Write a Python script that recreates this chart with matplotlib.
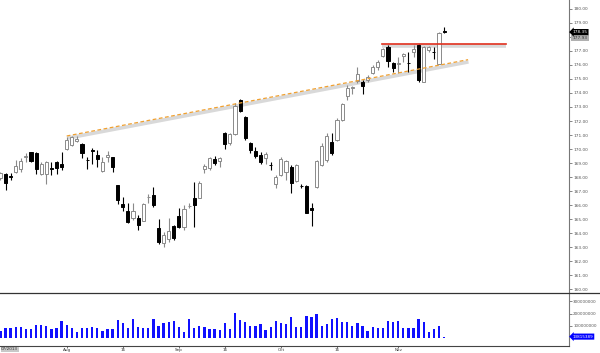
import numpy as np
import pandas as pd
import matplotlib
matplotlib.use("Agg")
import matplotlib.pyplot as plt
import matplotlib.transforms as mtransforms
from matplotlib.lines import Line2D

# trading days, Jul 15 - Nov 14 2013 (Labor day closed)
dates = pd.bdate_range("2013-07-15", "2013-11-14")
dates = dates[dates != pd.Timestamp("2013-09-02")]

opens = [167.90, 168.19, 168.10, 168.33, 168.55, 169.43, 169.76, 169.74, 168.19, 168.19, 168.67, 169.05, 168.90,
         169.98, 170.29, 170.57, 170.33, 169.23, 169.93, 169.57, 168.45, 169.40, 169.45, 167.40, 166.05,
         165.60, 165.05, 165.10, 164.88, 166.55, 166.71, 164.33, 163.26, 163.55, 164.50, 165.21, 164.40,
         165.90, 166.48, 166.48, 168.57, 168.62, 169.26, 169.17, 171.17, 170.40, 171.05, 173.50, 172.31,
         170.45, 169.86, 169.57, 169.33, 168.86, 167.48, 168.14, 168.38, 168.74, 167.74, 167.36, 167.38,
         165.76, 167.26, 168.86, 169.21, 170.52, 170.64, 172.07, 173.79, 174.38, 174.88, 174.81, 174.93,
         175.45, 175.83, 176.64, 177.31, 176.12, 176.05, 176.67, 176.17, 176.95, 177.43, 174.81, 177.07,
         176.93, 176.07, 178.45]
closes = [168.26, 167.55, 167.98, 168.81, 169.14, 169.50, 169.14, 168.55, 168.90, 169.05, 168.60, 168.62, 168.74,
          170.64, 170.88, 170.71, 169.74, 169.21, 169.86, 169.29, 169.10, 169.57, 168.74, 166.38, 165.83,
          164.76, 165.60, 164.57, 166.05, 166.60, 166.00, 163.33, 163.86, 164.14, 163.62, 164.40, 165.71,
          165.95, 166.00, 167.60, 168.79, 169.33, 168.98, 169.33, 170.33, 171.05, 173.07, 172.74, 170.76,
          169.93, 169.50, 169.05, 169.62, 168.83, 167.98, 169.26, 169.14, 167.60, 168.86, 167.33, 165.45,
          165.62, 169.17, 170.21, 170.93, 169.69, 172.07, 173.21, 174.33, 174.40, 175.36, 174.52, 175.12,
          175.88, 176.19, 177.12, 176.29, 175.76, 176.17, 176.79, 176.14, 177.12, 174.93, 177.31, 177.26,
          176.90, 178.31, 178.35]
highs = [168.38, 168.26, 168.26, 169.21, 169.33, 169.69, 169.81, 169.81, 169.05, 169.14, 169.05, 169.14, 169.81,
         170.88, 170.93, 170.93, 170.40, 169.45, 170.05, 169.93, 169.45, 169.86, 169.45, 167.43, 166.55,
         166.12, 166.12, 165.29, 166.12, 166.79, 167.26, 164.98, 164.10, 165.05, 164.57, 165.76, 166.00,
         166.12, 167.67, 167.74, 168.93, 169.45, 169.50, 169.45, 171.24, 171.17, 173.31, 173.55, 172.36,
         170.52, 170.17, 169.81, 169.81, 169.10, 168.14, 169.45, 169.21, 168.86, 168.93, 167.50, 167.43,
         166.12, 169.21, 170.40, 171.12, 171.12, 172.19, 173.31, 174.57, 174.50, 175.88, 174.90, 175.29,
         176.00, 176.36, 177.19, 177.43, 176.24, 176.60, 176.88, 176.95, 177.43, 177.50, 177.36, 177.36,
         177.31, 178.36, 178.74]
lows = [167.79, 167.07, 167.79, 168.26, 168.38, 169.10, 169.10, 168.19, 168.14, 167.48, 168.14, 168.19, 168.50,
        169.93, 170.24, 170.48, 169.33, 168.55, 168.90, 168.74, 168.38, 169.05, 168.33, 166.05, 165.60,
        164.70, 164.93, 164.21, 164.86, 166.12, 165.88, 163.21, 163.02, 163.38, 163.50, 164.33, 164.21,
        165.76, 164.45, 166.48, 168.31, 168.50, 168.86, 168.69, 169.98, 170.29, 171.00, 172.67, 170.64,
        169.69, 169.33, 168.93, 168.93, 168.50, 167.19, 168.07, 167.79, 166.83, 167.67, 167.24, 165.40,
        164.50, 167.19, 168.79, 169.10, 169.57, 170.60, 172.02, 173.50, 173.93, 174.69, 173.93, 174.81,
        175.33, 175.64, 176.55, 175.88, 175.52, 175.40, 176.24, 175.52, 176.60, 174.79, 174.76, 176.95,
        176.40, 176.05, 178.26]
volumes = [63, 82, 87, 95, 95, 74, 74, 106, 106, 103, 74, 82, 138,
           109, 82, 50, 82, 82, 95, 87, 63, 74, 74, 149, 128,
           82, 157, 95, 82, 82, 155, 103, 122, 136, 138, 90, 55,
           155, 82, 103, 90, 74, 74, 69, 122, 74, 203, 149, 130,
           101, 101, 114, 69, 95, 141, 122, 114, 176, 90, 95, 181,
           171, 200, 103, 114, 155, 163, 130, 136, 103, 125, 103, 63,
           90, 82, 82, 138, 130, 141, 82, 82, 82, 155, 136, 55,
           77, 101, 13.815389]
volumes = np.array(volumes) * 1e6

# drawn lines (bar index, price)
trend_x = [0, 78.7]
trend_y = [170.93, 176.38]
resist_x = [61.8, 86.1]
resist_y = 177.48
last_label = "178.35"
prev_label = "177.93"

n = len(dates)
idx = np.arange(n) - 13  # Aug 1 = 0
o = np.array(opens); c = np.array(closes); h = np.array(highs); l = np.array(lows)
up = c >= o

W, H = 600, 353
fig = plt.figure(figsize=(W / 100, H / 100), dpi=100)
ax_p = fig.add_axes([0, (H - 292.7) / H, 569 / W, 292.7 / H])
ax_v = fig.add_axes([0, (H - 345.7) / H, 569 / W, 53 / H], sharex=ax_p)

# candles
up_col = "#8a8a8a"
ax_p.vlines(idx[up], l[up], h[up], color=up_col, lw=0.8, zorder=2)
ax_p.vlines(idx[~up], l[~up], h[~up], color="black", lw=0.8, zorder=2)
body_lo = np.minimum(o, c)
body_h = np.maximum(np.abs(c - o), 0.03)
ax_p.bar(idx[up], body_h[up], bottom=body_lo[up], width=0.6, facecolor="white",
         edgecolor=up_col, linewidth=0.7, zorder=3)
ax_p.bar(idx[~up], body_h[~up], bottom=body_lo[~up], width=0.6, facecolor="black",
         edgecolor="black", linewidth=0.7, zorder=3)

# trend line with shadow
shadow = ax_p.transData + mtransforms.ScaledTranslation(0.3 / 72, -1.6 / 72, fig.dpi_scale_trans)
ax_p.plot(trend_x, trend_y, color="#d9d9d9", lw=2.6, transform=shadow, zorder=1, solid_capstyle="butt")
ax_p.plot(trend_x, trend_y, color="#f0a030", lw=0.9, ls=(0, (3, 2)), zorder=4)
ax_p.plot(resist_x, [resist_y] * 2, color="#d9d9d9", lw=2.6, transform=shadow, zorder=1, solid_capstyle="butt")
ax_p.plot(resist_x, [resist_y] * 2, color="#e0301e", lw=1.2, zorder=4)

ax_p.set_xlim(-13.08, 98.49)
ax_p.set_ylim(159.74, 180.64)
ax_p.yaxis.tick_right()
ax_p.set_yticks(np.arange(160, 181, 1))
ax_p.yaxis.set_major_formatter(plt.FormatStrFormatter("%.2f"))
ax_p.tick_params(axis="y", labelsize=3.1, colors="#555555", length=2, width=0.5, pad=1)
ax_p.tick_params(axis="x", bottom=False, labelbottom=False)
for s in ["left", "top", "bottom"]:
    ax_p.spines[s].set_visible(False)
ax_p.spines["right"].set_color("#777777")
ax_p.spines["right"].set_linewidth(0.8)

# volume
ax_v.bar(idx, volumes, width=0.45, color="#1010ff", zorder=2)
ax_v.set_ylim(-60e6, 370e6)
ax_v.yaxis.tick_right()
ax_v.set_yticks([100e6, 200e6, 300e6])
ax_v.yaxis.set_major_formatter(plt.FuncFormatter(lambda v, p: "%d" % v))
ax_v.tick_params(axis="y", labelsize=3.0, colors="#555555", length=2, width=0.5, pad=1)
for s in ["left", "top"]:
    ax_v.spines[s].set_visible(False)
ax_v.spines["right"].set_color("#777777")
ax_v.spines["right"].set_linewidth(0.8)
ax_v.spines["bottom"].set_color("#444444")
ax_v.spines["bottom"].set_linewidth(0.8)

# date ticks: first day of month and the 16th (from August on)
tick_pos, tick_lab = [], []
for k, d in enumerate(dates):
    if idx[k] < 0:
        continue
    if d.month != dates[k - 1].month:
        tick_pos.append(idx[k]); tick_lab.append(d.strftime("%b"))
    elif d.day == 16:
        tick_pos.append(idx[k]); tick_lab.append("16")
ax_v.set_xticks(tick_pos)
ax_v.set_xticklabels(tick_lab)
ax_v.tick_params(axis="x", labelsize=3.0, colors="#333333", length=1.5, width=0.5, pad=0.3)

# separator between panels
fig.add_artist(Line2D([0, 1], [(H - 292.7) / H] * 2, color="#333333", lw=0.9))

# value labels on the right
ax_p.annotate(prev_label, xy=(1, 177.93), xycoords=("axes fraction", "data"), xytext=(2.5, 0),
              textcoords="offset points", va="center", ha="left", fontsize=3.1, color="#333333",
              bbox=dict(boxstyle="square,pad=0.25", fc="#b0b0b0", ec="none"), annotation_clip=False)
ax_p.annotate(last_label, xy=(1, 178.35), xycoords=("axes fraction", "data"), xytext=(2.5, 0),
              textcoords="offset points", va="center", ha="left", fontsize=3.1, color="white",
              bbox=dict(boxstyle="larrow,pad=0.25", fc="black", ec="none"), annotation_clip=False)
ax_v.annotate("%d" % volumes[-1], xy=(1, volumes[-1]), xycoords=("axes fraction", "data"), xytext=(2.5, 0),
              textcoords="offset points", va="center", ha="left", fontsize=3.0, color="white",
              bbox=dict(boxstyle="larrow,pad=0.25", fc="#0000ff", ec="none"), annotation_clip=False)

# cursor date box at left
fig.text(0.002, (H - 349.3) / H, dates[0].strftime("%m/%Y"), fontsize=3.0, color="#333333", va="center",
         ha="left", bbox=dict(boxstyle="square,pad=0.15", fc="#c8c8c8", ec="none"))

fig.savefig("out.png", dpi=100)
